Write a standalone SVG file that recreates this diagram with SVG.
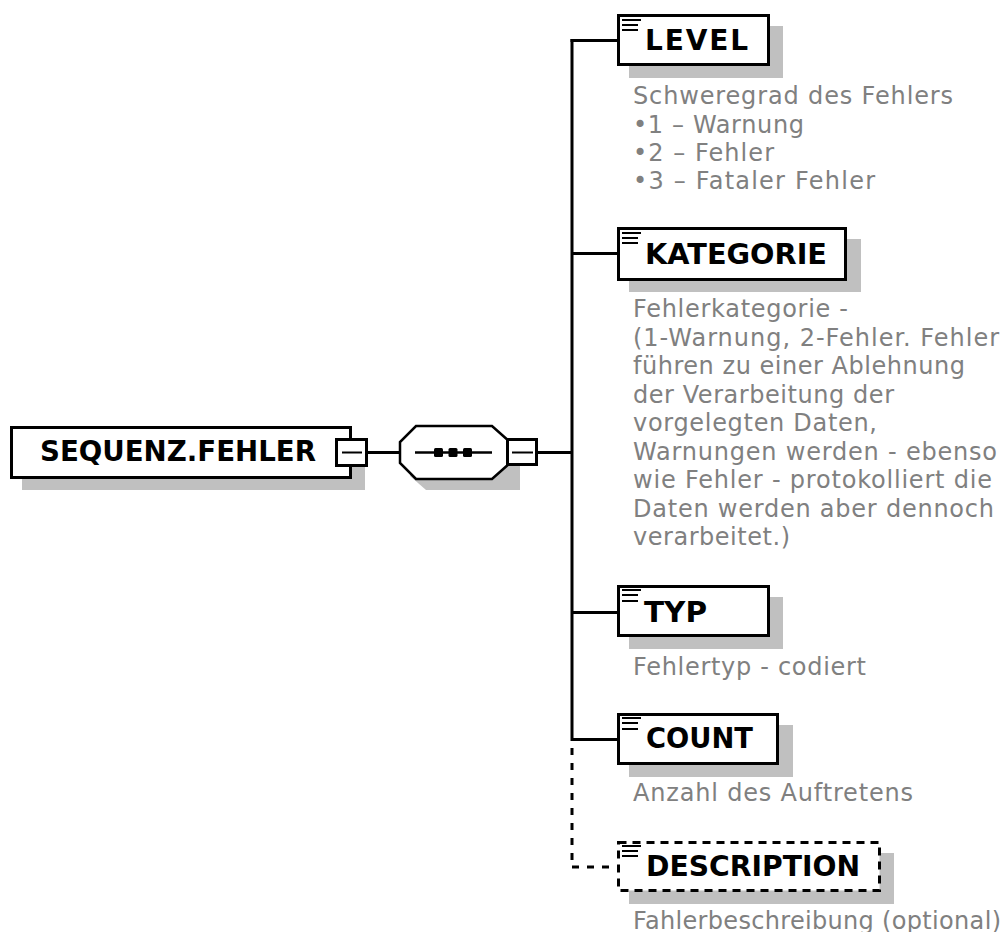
<svg xmlns="http://www.w3.org/2000/svg" width="1007" height="932" viewBox="0 0 1007 932">
<style>
.box{fill:#fff;stroke:#000;stroke-width:3}
.dbox{fill:#fff;stroke:#000;stroke-width:3;stroke-dasharray:8,6}
.sh{fill:#c0c0c0}
.ln{stroke:#000;stroke-width:3;fill:none}
.dln{stroke:#000;stroke-width:3;fill:none;stroke-dasharray:7,8}
.ic{stroke:#000;stroke-width:2}
.lbl{font-family:"DejaVu Sans","Liberation Sans",sans-serif;font-weight:bold;font-size:28px;fill:#000}
.doc{font-family:"DejaVu Sans","Liberation Sans",sans-serif;font-size:24px;fill:#808080}
</style>
<g id="connectors">
<line class="ln" x1="368" y1="452.5" x2="400" y2="452.5"/>
<line class="ln" x1="538" y1="452.5" x2="572" y2="452.5"/>
<line class="ln" x1="572" y1="39" x2="572" y2="741"/>
<line class="dln" x1="572" y1="748" x2="572" y2="867"/>
<line class="ln" x1="570.5" y1="40.5" x2="617" y2="40.5"/>
<line class="ln" x1="572" y1="253.5" x2="617" y2="253.5"/>
<line class="ln" x1="572" y1="612.5" x2="617" y2="612.5"/>
<line class="ln" x1="572" y1="739.5" x2="617" y2="739.5"/>
<path class="dln" d="M572,867 H617"/>
</g>
<g id="node-root">
<rect class="sh" x="22" y="438" width="343" height="52"/>
<rect class="box" x="11.5" y="427.5" width="339" height="50"/>
<text class="lbl" x="40" y="461" textLength="276" lengthAdjust="spacingAndGlyphs">SEQUENZ.FEHLER</text>
<rect class="box" x="336.5" y="439.5" width="30" height="26" stroke-width="2.5"/>
<line class="ic" x1="342" y1="452.5" x2="362" y2="452.5" stroke-width="2.5"/>
</g>
<g id="node-sequence">
<polygon class="sh" points="426,437 502,437 520,452 520,490 426,490 410,476"/>
<polygon points="416,426 492,426 510,442 510,463 492,479 416,479 400,463 400,442" fill="#fff" stroke="#000" stroke-width="2.5"/>
<line x1="415" y1="452.5" x2="492" y2="452.5" stroke="#000" stroke-width="2.5"/>
<rect x="434" y="448" width="9" height="9" rx="1.5" fill="#000"/>
<rect x="448.5" y="448" width="9" height="9" rx="1.5" fill="#000"/>
<rect x="463" y="448" width="9" height="9" rx="1.5" fill="#000"/>
<rect class="box" x="507.5" y="439.5" width="29" height="25" stroke-width="2.5"/>
<line class="ic" x1="512" y1="452.5" x2="533" y2="452.5" stroke-width="2.5"/>
</g>
<g id="node-level">
<rect class="sh" x="629" y="26" width="154" height="52"/>
<rect class="box" x="618.5" y="15.5" width="150" height="49"/>
<line class="ic" x1="622" y1="20" x2="641" y2="20"/>
<line class="ic" x1="622" y1="25" x2="638" y2="25"/>
<line class="ic" x1="622" y1="30" x2="638" y2="30"/>
<text class="lbl" x="645" y="50" textLength="103" lengthAdjust="spacing">LEVEL</text>
<text class="doc" x="633" y="104" textLength="320" lengthAdjust="spacing">Schweregrad des Fehlers</text>
<text class="doc" x="633" y="132.5" textLength="171" lengthAdjust="spacing">•1 – Warnung</text>
<text class="doc" x="633" y="160.5" textLength="141" lengthAdjust="spacing">•2 – Fehler</text>
<text class="doc" x="633" y="188.5" textLength="242" lengthAdjust="spacing">•3 – Fataler Fehler</text>
</g>
<g id="node-kategorie">
<rect class="sh" x="629" y="239" width="232" height="53"/>
<rect class="box" x="618.5" y="228.5" width="227" height="51"/>
<line class="ic" x1="622" y1="233" x2="641" y2="233"/>
<line class="ic" x1="622" y1="238" x2="638" y2="238"/>
<line class="ic" x1="622" y1="243" x2="638" y2="243"/>
<text class="lbl" x="645" y="264" textLength="182" lengthAdjust="spacingAndGlyphs">KATEGORIE</text>
<text class="doc" x="633" y="317" textLength="215" lengthAdjust="spacing">Fehlerkategorie -</text>
<text class="doc" x="633" y="345.5" textLength="366" lengthAdjust="spacing">(1-Warnung, 2-Fehler. Fehler</text>
<text class="doc" x="633" y="374" textLength="332" lengthAdjust="spacing">führen zu einer Ablehnung</text>
<text class="doc" x="633" y="402.5" textLength="261" lengthAdjust="spacing">der Verarbeitung der</text>
<text class="doc" x="633" y="431" textLength="244" lengthAdjust="spacing">vorgelegten Daten,</text>
<text class="doc" x="633" y="459.5" textLength="364" lengthAdjust="spacing">Warnungen werden - ebenso</text>
<text class="doc" x="633" y="488" textLength="359" lengthAdjust="spacing">wie Fehler - protokolliert die</text>
<text class="doc" x="633" y="516.5" textLength="361" lengthAdjust="spacing">Daten werden aber dennoch</text>
<text class="doc" x="633" y="545" textLength="157" lengthAdjust="spacing">verarbeitet.)</text>
</g>
<g id="node-typ">
<rect class="sh" x="629" y="597" width="154" height="52"/>
<rect class="box" x="618.5" y="586.5" width="150" height="49"/>
<line class="ic" x1="622" y1="590" x2="641" y2="590"/>
<line class="ic" x1="622" y1="595" x2="638" y2="595"/>
<line class="ic" x1="622" y1="601" x2="638" y2="601"/>
<text class="lbl" x="644" y="622" textLength="63" lengthAdjust="spacingAndGlyphs">TYP</text>
<text class="doc" x="633" y="675" textLength="233" lengthAdjust="spacing">Fehlertyp - codiert</text>
</g>
<g id="node-count">
<rect class="sh" x="629" y="725" width="164" height="52"/>
<rect class="box" x="618.5" y="714.5" width="159" height="49"/>
<line class="ic" x1="622" y1="718" x2="641" y2="718"/>
<line class="ic" x1="622" y1="723" x2="638" y2="723"/>
<line class="ic" x1="622" y1="729" x2="638" y2="729"/>
<text class="lbl" x="646" y="748" textLength="107" lengthAdjust="spacingAndGlyphs">COUNT</text>
<text class="doc" x="633" y="801" textLength="280" lengthAdjust="spacing">Anzahl des Auftretens</text>
</g>
<g id="node-description">
<rect class="sh" x="629" y="853" width="265" height="51"/>
<rect class="dbox" x="618.5" y="842.5" width="261" height="48"/>
<line class="ic" x1="622" y1="846" x2="641" y2="846"/>
<line class="ic" x1="622" y1="851" x2="638" y2="851"/>
<line class="ic" x1="622" y1="856" x2="638" y2="856"/>
<text class="lbl" x="646" y="876" textLength="214" lengthAdjust="spacingAndGlyphs">DESCRIPTION</text>
<text class="doc" x="633" y="929" textLength="368" lengthAdjust="spacing">Fahlerbeschreibung (optional)</text>
</g>
</svg>
